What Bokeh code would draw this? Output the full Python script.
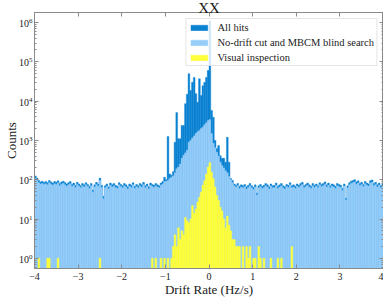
import numpy as np
from bokeh.plotting import figure
from bokeh.models import (ColumnDataSource, LogAxis, LinearAxis, FixedTicker,
                          CustomJSTickFormatter)
from bokeh.embed import file_html
from bokeh.resources import INLINE

# ---------------- data ----------------
bin_lo, bin_hi, n_bins = -4.0, 4.0, 200

all_hits = [
    125, 110, 95, 88, 92, 85, 90, 84, 96, 88,
    82, 90, 86, 94, 80, 88, 92, 85, 78, 84,
    90, 76, 82, 72, 86, 78, 70, 80, 74, 84,
    76, 68, 80, 55, 74, 86, 78, 110, 72, 38,
    70, 78, 66, 82, 74, 80, 72, 68, 84, 76,
    70, 80, 74, 66, 78, 72, 84, 68, 76, 70,
    80, 74, 86, 70, 78, 66, 82, 76, 72, 80,
    74, 70, 82, 90, 115, 100, 1260, 140, 130, 160,
    900, 5100, 1100, 1100, 2400, 2400, 8600, 15000, 50000, 18500,
    30000, 40000, 15500, 9300, 37000, 14000, 24500, 30000, 40000, 60000,
    1100000, 5800, 3900, 1000, 620, 740, 410, 350, 350, 280,
    1200, 280, 107, 95, 78, 72, 80, 68, 74, 70,
    76, 66, 72, 80, 70, 64, 74, 46, 70, 76,
    68, 72, 80, 74, 66, 78, 70, 72, 82, 68,
    74, 80, 70, 66, 76, 72, 84, 70, 74, 68,
    78, 72, 80, 86, 70, 76, 82, 74, 68, 80,
    72, 78, 70, 84, 76, 80, 88, 74, 82, 70,
    78, 74, 68, 80, 76, 72, 60, 78, 34, 70,
    84, 92, 96, 100, 88, 94, 80, 86, 76, 90,
    82, 78, 94, 98, 80, 86, 74, 82, 70, 76,
]

no_drift_mbcm = [
    108, 96, 84, 78, 80, 75, 79, 74, 84, 77,
    72, 79, 76, 83, 70, 77, 81, 74, 68, 74,
    79, 67, 72, 63, 75, 68, 62, 70, 65, 74,
    67, 60, 70, 48, 65, 75, 68, 96, 63, 33,
    62, 68, 58, 72, 65, 70, 63, 60, 74, 67,
    62, 70, 65, 58, 68, 63, 74, 60, 67, 62,
    70, 65, 75, 62, 68, 58, 72, 67, 63, 70,
    65, 62, 72, 78, 90, 92, 95, 107, 115, 125,
    150, 190, 210, 250, 350, 420, 480, 560, 900, 1000,
    1150, 1300, 1500, 1650, 1800, 2000, 2200, 2500, 2800, 3200,
    3400, 1500, 850, 650, 500, 400, 280, 230, 200, 170,
    150, 120, 100, 85, 70, 64, 71, 60, 65, 62,
    67, 58, 63, 70, 62, 56, 65, 40, 62, 67,
    60, 63, 70, 65, 58, 69, 62, 63, 72, 60,
    65, 70, 62, 58, 67, 63, 74, 62, 65, 60,
    69, 63, 70, 76, 62, 67, 72, 65, 60, 70,
    63, 69, 62, 74, 67, 70, 77, 65, 72, 62,
    69, 65, 60, 70, 67, 63, 53, 69, 30, 62,
    74, 81, 84, 88, 77, 83, 70, 76, 67, 79,
    72, 69, 83, 86, 70, 76, 65, 72, 62, 67,
]

visual = [
    0, 0, 1, 0, 0, 0, 0, 1, 1, 0,
    0, 0, 0, 1, 0, 0, 0, 0, 0, 0,
    0, 0, 0, 0, 0, 0, 0, 0, 0, 0,
    0, 0, 0, 0, 0, 0, 0, 1, 0, 0,
    0, 0, 0, 0, 0, 0, 0, 0, 0, 0,
    0, 0, 0, 0, 0, 0, 0, 0, 0, 0,
    0, 0, 0, 0, 0, 0, 0, 1, 0, 1,
    0, 0, 1, 0, 1, 0, 1, 0, 1, 2,
    4, 2, 6, 3, 5, 4, 11, 9, 8, 10,
    22, 14, 18, 27, 36, 49, 72, 95, 140, 210,
    275, 155, 107, 65, 40, 30, 20, 16, 10, 6,
    12, 7, 5, 3, 3, 2, 2, 2, 0, 2,
    0, 2, 1, 2, 0, 1, 1, 0, 2, 1,
    0, 1, 0, 0, 0, 1, 0, 0, 0, 1,
    0, 1, 0, 0, 0, 0, 0, 2, 0, 0,
    0, 0, 0, 0, 0, 0, 0, 0, 0, 0,
    0, 0, 0, 0, 0, 0, 0, 0, 0, 0,
    0, 0, 0, 0, 0, 0, 0, 0, 0, 0,
    0, 0, 0, 0, 0, 0, 0, 0, 0, 0,
    0, 0, 0, 0, 0, 0, 0, 0, 0, 0,
]

series_labels = ["All hits", "No-drift cut and MBCM blind search", "Visual inspection"]
x_ticks = [-4, -3, -2, -1, 0, 1, 2, 3, 4]
y_ticks = [1, 10, 100, 1000, 10000, 100000, 1000000]

# ---------------- style ----------------
DARK = "#0A82D2"
LIGHT = "#96CDF9"
YELLOW = "#FFFF3A"
GRAY = "#8a8a8a"
TXT = "#1a1a1a"
FONT = "Liberation Serif"

edges = np.linspace(bin_lo, bin_hi, n_bins + 1)


def make_source(counts):
    c = np.asarray(counts, dtype=float)
    m = c > 0
    return ColumnDataSource(dict(left=edges[:-1][m], right=edges[1:][m],
                                 top=c[m], bottom=np.full(int(m.sum()), 0.01)))


p = figure(frame_width=349, frame_height=256, x_range=(-4, 4), y_range=(0.55, 1.8e6),
           y_axis_type="log", output_backend="svg", toolbar_location=None,
           min_border_left=0, min_border_right=0, min_border_top=0,
           min_border_bottom=0, title="XX")
p.grid.visible = False
p.outline_line_color = GRAY
p.background_fill_color = "white"

p.title.align = "center"
p.title.text_font = FONT
p.title.text_font_size = "15px"
p.title.text_font_style = "normal"
p.title.text_color = TXT
p.title.standoff = -6

for counts, col, lab in [(all_hits, DARK, series_labels[0]),
                         (no_drift_mbcm, LIGHT, series_labels[1]),
                         (visual, YELLOW, series_labels[2])]:
    p.quad(left="left", right="right", top="top", bottom="bottom",
           source=make_source(counts), fill_color=col, fill_alpha=1.0,
           line_color=col, line_alpha=1.0, line_width=0.4, legend_label=lab)

minor_y = [k * 10.0 ** e for e in range(-1, 7) for k in range(2, 10)]
blank = CustomJSTickFormatter(code="return ''")


def style_axis(ax, show_labels=True):
    ax.axis_line_color = GRAY
    ax.major_tick_line_color = GRAY
    ax.minor_tick_line_color = GRAY
    ax.major_tick_in = 4
    ax.major_tick_out = 0
    ax.minor_tick_in = 2
    ax.minor_tick_out = 0
    ax.major_label_text_font = FONT
    ax.major_label_text_color = TXT
    ax.axis_label_text_font = FONT
    ax.axis_label_text_font_style = "normal"
    ax.axis_label_text_color = TXT
    ax.axis_label_text_font_size = "13px"
    if show_labels:
        ax.major_label_text_font_size = "10px"
        ax.major_label_standoff = 2
        ax.axis_label_standoff = -3
    else:
        ax.formatter = blank
        ax.major_label_text_font_size = "1px"
        ax.major_label_standoff = 0


p.xaxis.ticker = FixedTicker(ticks=x_ticks, minor_ticks=[])
p.yaxis.ticker = FixedTicker(ticks=y_ticks, minor_ticks=minor_y)
style_axis(p.xaxis[0])
style_axis(p.yaxis[0])
p.xaxis.major_label_overrides = {t: (("\u2212" + str(-t)) if t < 0 else str(t)) for t in x_ticks}
p.xaxis.major_label_standoff = 4
p.xaxis.axis_label_standoff = -1
p.xaxis.axis_label = "Drift Rate (Hz/s)"
p.yaxis.axis_label = "Counts"

ra = LogAxis(ticker=FixedTicker(ticks=y_ticks, minor_ticks=minor_y))
style_axis(ra, False)
p.add_layout(ra, "right")
ta = LinearAxis(ticker=FixedTicker(ticks=x_ticks, minor_ticks=[]))
style_axis(ta, False)
p.add_layout(ta, "above")

# legend
lg = p.legend[0]
lg.location = "top_right"
lg.margin = 6
lg.padding = 2
lg.spacing = 3
lg.label_height = 12
lg.glyph_height = 7
lg.glyph_width = 21
lg.label_standoff = 8
lg.label_text_font = FONT
lg.label_text_font_size = "10.5px"
lg.label_text_color = TXT
lg.border_line_color = "#cccccc"
lg.background_fill_alpha = 0.8

open("out.html", "w").write(file_html(p, INLINE))
